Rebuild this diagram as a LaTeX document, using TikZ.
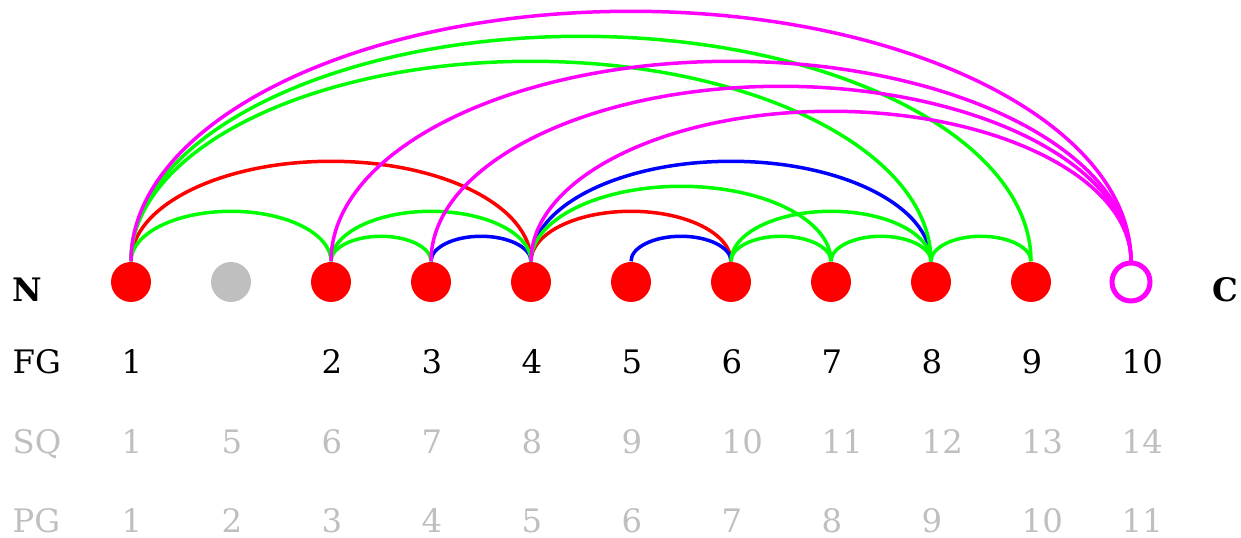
\documentclass[tikz,border=0pt]{standalone}
\usepackage{fontspec}
\setmainfont{DejaVu Serif}
\usepackage{tikz}
\usetikzlibrary{calc}

\definecolor{pmagenta}{RGB}{255,0,255}
\definecolor{pgreen}{RGB}{0,255,0}

\tikzset{
	res/.style={circle, fill=red, minimum size=0.4cm, inner sep=0pt},
	gapres/.style={circle, fill=lightgray, minimum size=0.4cm, inner sep=0pt},
	cterm/.style={circle, draw=pmagenta, line width=0.05cm, minimum size=0.38cm, inner sep=0pt},
	lab/.style={anchor=base west, inner sep=0pt, font=\fontsize{9.2}{11}\selectfont},
	glab/.style={lab, text=lightgray},
	link/.style={line width=0.035cm},
}

% halbe Ellipse zwischen zwei Resten
\newcommand{\linkarc}[3]{%
	\draw[link, #1] let \p1=(#2.north), \p2=(#3.north) in
	(\p1) arc[start angle=180, end angle=0, x radius={0.5*(\x2-\x1)}, y radius={0.25*(\x2-\x1)}];}

\begin{document}
\begin{tikzpicture}
		
		\useasboundingbox (0,0) rectangle (12.41,5.38);
		
		% Reste
		\node[res] (r1) at (1.31,2.56) {};
		\node[gapres] (r2) at (2.31,2.56) {};
		\node[res] (r3) at (3.31,2.56) {};
		\node[res] (r4) at (4.31,2.56) {};
		\node[res] (r5) at (5.31,2.56) {};
		\node[res] (r6) at (6.31,2.56) {};
		\node[res] (r7) at (7.31,2.56) {};
		\node[res] (r8) at (8.31,2.56) {};
		\node[res] (r9) at (9.31,2.56) {};
		\node[res] (r10) at (10.31,2.56) {};
		\node[cterm] (r11) at (11.31,2.56) {};
		
		% Boegen
		\linkarc{red}{r1}{r5}
		\linkarc{red}{r5}{r7}
		\linkarc{blue}{r4}{r5}
		\linkarc{blue}{r6}{r7}
		\linkarc{blue}{r5}{r9}
		\linkarc{pgreen}{r1}{r3}
		\linkarc{pgreen}{r3}{r4}
		\linkarc{pgreen}{r3}{r5}
		\linkarc{pgreen}{r5}{r8}
		\linkarc{pgreen}{r7}{r8}
		\linkarc{pgreen}{r7}{r9}
		\linkarc{pgreen}{r8}{r9}
		\linkarc{pgreen}{r9}{r10}
		\linkarc{pgreen}{r1}{r9}
		\linkarc{pgreen}{r1}{r10}
		\linkarc{pmagenta}{r1}{r11}
		\linkarc{pmagenta}{r3}{r11}
		\linkarc{pmagenta}{r4}{r11}
		\linkarc{pmagenta}{r5}{r11}
		
		% Enden
		\node[lab, font=\fontsize{9.2}{11}\selectfont\bfseries] (nterm) at (0.12,2.36) {N};
		\node[lab, font=\fontsize{9.2}{11}\selectfont\bfseries] (cend) at (12.12,2.36) {C};
		
		% Zeile FG
		\node[lab] (fg) at (0.12,1.64) {FG};
		\node[lab] (fg1) at (1.21,1.64) {1};
		\node[lab] (fg2) at (3.21,1.64) {2};
		\node[lab] (fg3) at (4.21,1.64) {3};
		\node[lab] (fg4) at (5.21,1.64) {4};
		\node[lab] (fg5) at (6.21,1.64) {5};
		\node[lab] (fg6) at (7.21,1.64) {6};
		\node[lab] (fg7) at (8.21,1.64) {7};
		\node[lab] (fg8) at (9.21,1.64) {8};
		\node[lab] (fg9) at (10.21,1.64) {9};
		\node[lab] (fg10) at (11.21,1.64) {10};
		
		% Zeile SQ
		\node[glab] (sq) at (0.12,0.84) {SQ};
		\node[glab] (sq1) at (1.21,0.84) {1};
		\node[glab] (sq5) at (2.21,0.84) {5};
		\node[glab] (sq6) at (3.21,0.84) {6};
		\node[glab] (sq7) at (4.21,0.84) {7};
		\node[glab] (sq8) at (5.21,0.84) {8};
		\node[glab] (sq9) at (6.21,0.84) {9};
		\node[glab] (sq10) at (7.21,0.84) {10};
		\node[glab] (sq11) at (8.21,0.84) {11};
		\node[glab] (sq12) at (9.21,0.84) {12};
		\node[glab] (sq13) at (10.21,0.84) {13};
		\node[glab] (sq14) at (11.21,0.84) {14};
		
		% Zeile PG
		\node[glab] (pg) at (0.12,0.05) {PG};
		\node[glab] (pg1) at (1.21,0.05) {1};
		\node[glab] (pg2) at (2.21,0.05) {2};
		\node[glab] (pg3) at (3.21,0.05) {3};
		\node[glab] (pg4) at (4.21,0.05) {4};
		\node[glab] (pg5) at (5.21,0.05) {5};
		\node[glab] (pg6) at (6.21,0.05) {6};
		\node[glab] (pg7) at (7.21,0.05) {7};
		\node[glab] (pg8) at (8.21,0.05) {8};
		\node[glab] (pg9) at (9.21,0.05) {9};
		\node[glab] (pg10) at (10.21,0.05) {10};
		\node[glab] (pg11) at (11.21,0.05) {11};
		
	\end{tikzpicture}
\end{document}
